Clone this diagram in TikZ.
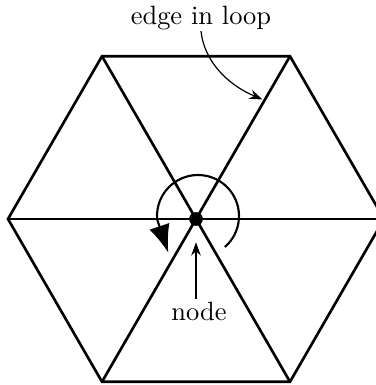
\documentclass[tikz,border=0pt]{standalone}
\usetikzlibrary{arrows.meta}
\begin{document}
\begin{tikzpicture}[x=0.378pt,y=-0.378pt,
  hexline/.style={line width=1pt},
  thinarrow/.style={line width=0.45pt,-{Stealth[length=5pt,width=3.6pt]}},
  lbl/.style={inner sep=1pt}]
\useasboundingbox (0,0) rectangle (376,385);
\coordinate (v0) at (384,219);
\coordinate (v1) at (290,56.2);
\coordinate (v2) at (102,56.2);
\coordinate (v3) at (8,219);
\coordinate (v4) at (102,381.8);
\coordinate (v5) at (290,381.8);
\node[circle,fill,inner sep=0pt,minimum size=5.2pt] (c) at (196,219) {};
\draw[hexline,line join=miter] (v0) -- (v1) -- (v2) -- (v3) -- (v4) -- (v5) -- cycle;
\foreach \i in {0,...,5} \draw[hexline] (c.center) -- (v\i);
% loop arc
\coordinate (lt) at (168.3,252.7);
\draw[line width=0.8pt,-{Latex[length=10.5pt,width=8pt]}] (198,216) ++(49:41) arc[start angle=49,end angle=-185,radius=41] -- (lt);
\node[lbl] (t1) at (201,18) {edge in loop};
\node[lbl] (t2) at (199,311) {node};
\coordinate (e1) at (262.5,99.5);
\draw[thinarrow] (t1.south) ++(0,-2) .. controls (204,60) and (226,84) .. (e1);
\draw[thinarrow,shorten >=6pt] (c.south |- t2.north) -- (c.south);
\end{tikzpicture}
\end{document}
